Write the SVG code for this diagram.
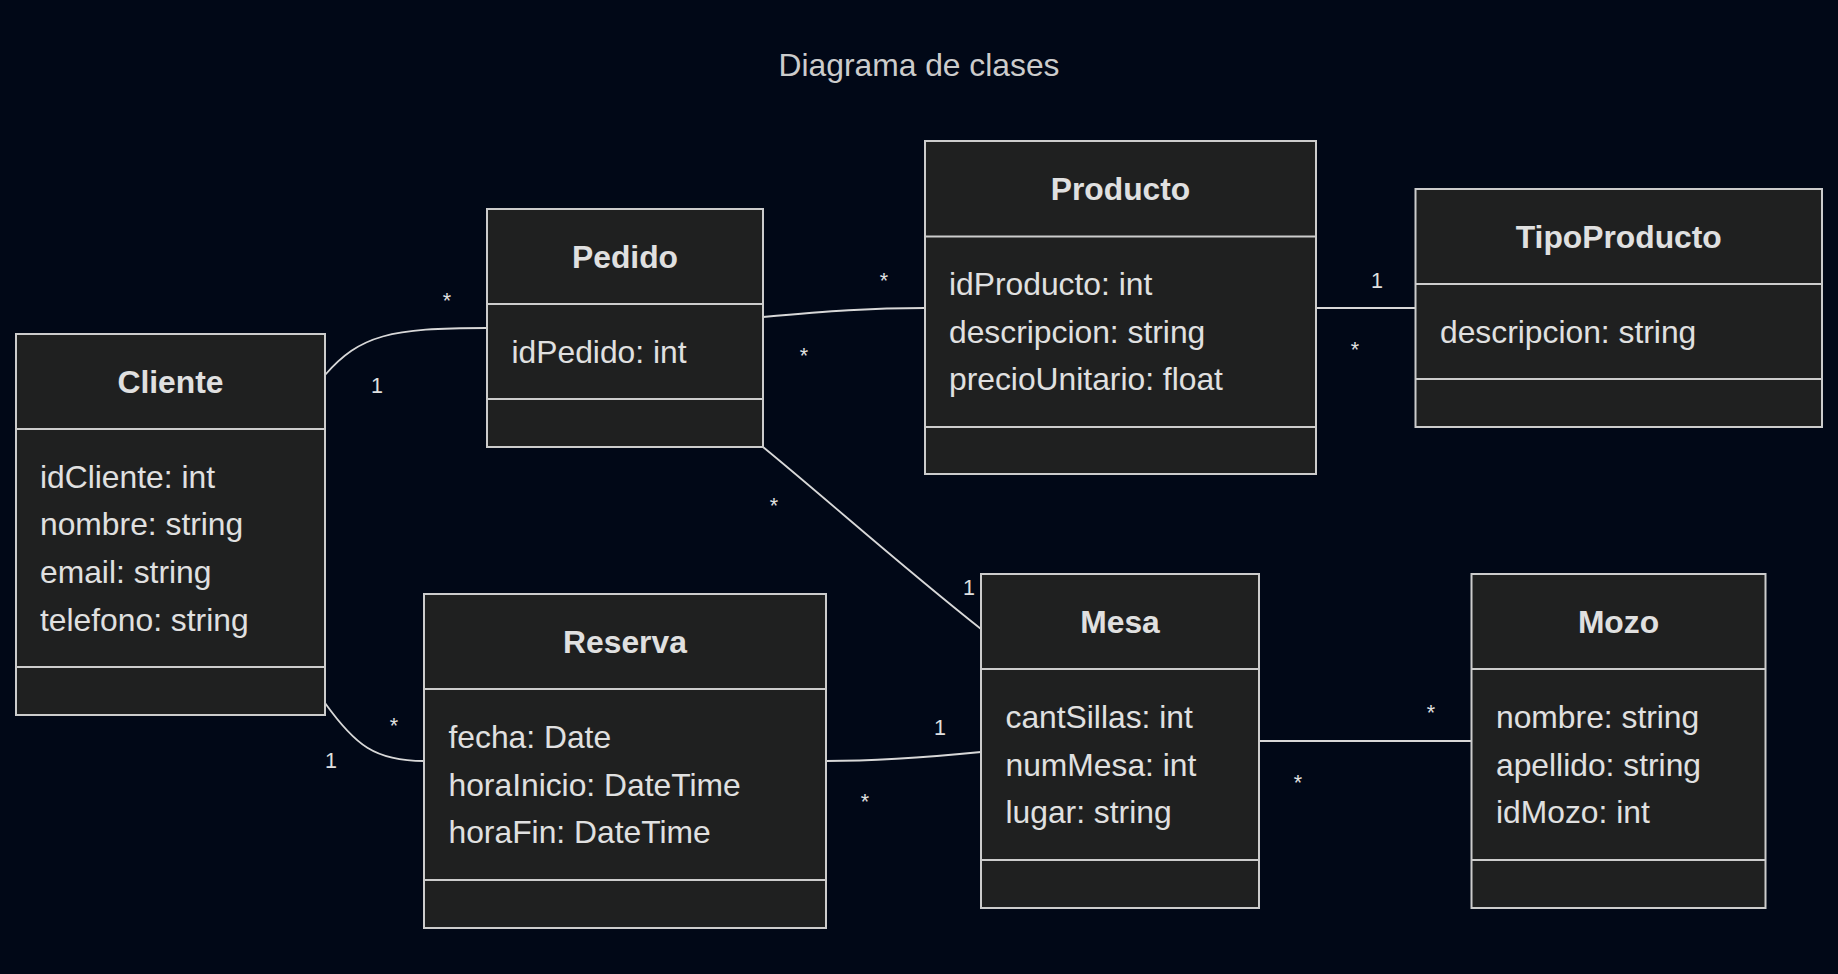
<svg xmlns="http://www.w3.org/2000/svg" width="1838" height="974" viewBox="0 0 1838 974">
<style>
.bg{fill:#010817}
.box{fill:#1f2020;stroke:#cccccc;stroke-width:2}
.div{stroke:#cccccc;stroke-width:2}
.name{font-family:"Liberation Sans",Arial,sans-serif;font-size:31.8px;font-weight:bold;fill:#e0e0e0;text-anchor:middle}
.attr{font-family:"Liberation Sans",Arial,sans-serif;font-size:31.8px;fill:#e0e0e0}
.title{font-family:"Liberation Sans",Arial,sans-serif;font-size:31.8px;fill:#cccccc;text-anchor:middle}
.edge{fill:none;stroke:#d8d8d8;stroke-width:1.8}
.lbl{font-family:"Liberation Sans",Arial,sans-serif;font-size:21.5px;fill:#e0e0e0;text-anchor:middle}
</style>
<rect class="bg" x="0" y="0" width="1838" height="974"/>
<text class="title" x="919" y="76">Diagrama de clases</text>

<g id="connectors">
<path class="edge" d="M325,375 C360,335 390,328 487,328"/>
<path class="edge" d="M763,317 C830,311 870,308 925,308"/>
<path class="edge" d="M763,447 C830,502 900,565 981,629"/>
<path class="edge" d="M325,703 C355,745 375,761 424,761"/>
<path class="edge" d="M826,761 C880,761 930,757 981,752"/>
<path class="edge" d="M1259,741 L1472,741"/>
<path class="edge" d="M1316,308 L1416,308"/>
<text class="lbl" x="377" y="393">1</text>
<text class="lbl" x="447" y="308">*</text>
<text class="lbl" x="884" y="288">*</text>
<text class="lbl" x="804" y="363">*</text>
<text class="lbl" x="774" y="513">*</text>
<text class="lbl" x="969" y="595">1</text>
<text class="lbl" x="394" y="733">*</text>
<text class="lbl" x="331" y="768">1</text>
<text class="lbl" x="940" y="735">1</text>
<text class="lbl" x="865" y="809">*</text>
<text class="lbl" x="1431" y="720">*</text>
<text class="lbl" x="1298" y="790">*</text>
<text class="lbl" x="1377" y="288">1</text>
<text class="lbl" x="1355" y="357">*</text>
</g>

<g id="Cliente">
<rect class="box" x="16" y="334" width="309" height="381"/>
<line class="div" x1="16" y1="429" x2="325" y2="429"/>
<line class="div" x1="16" y1="667" x2="325" y2="667"/>
<text class="name" x="170.5" y="392.5">Cliente</text>
<text class="attr" x="40" y="487.5">idCliente: int</text>
<text class="attr" x="40" y="535.2">nombre: string</text>
<text class="attr" x="40" y="582.9">email: string</text>
<text class="attr" x="40" y="630.6">telefono: string</text>
</g>

<g id="Pedido">
<rect class="box" x="487" y="209" width="276" height="238"/>
<line class="div" x1="487" y1="304" x2="763" y2="304"/>
<line class="div" x1="487" y1="399" x2="763" y2="399"/>
<text class="name" x="625" y="267.5">Pedido</text>
<text class="attr" x="511.5" y="362.5">idPedido: int</text>
</g>

<g id="Producto">
<rect class="box" x="925" y="141" width="391" height="333"/>
<line class="div" x1="925" y1="236.5" x2="1316" y2="236.5"/>
<line class="div" x1="925" y1="427" x2="1316" y2="427"/>
<text class="name" x="1120.5" y="200">Producto</text>
<text class="attr" x="949" y="295">idProducto: int</text>
<text class="attr" x="949" y="342.7">descripcion: string</text>
<text class="attr" x="949" y="390.4">precioUnitario: float</text>
</g>

<g id="TipoProducto">
<rect class="box" x="1415.5" y="189" width="406.5" height="238"/>
<line class="div" x1="1415.5" y1="284" x2="1822" y2="284"/>
<line class="div" x1="1415.5" y1="379" x2="1822" y2="379"/>
<text class="name" x="1618.75" y="247.5">TipoProducto</text>
<text class="attr" x="1440" y="342.5">descripcion: string</text>
</g>

<g id="Reserva">
<rect class="box" x="424" y="594" width="402" height="334"/>
<line class="div" x1="424" y1="689" x2="826" y2="689"/>
<line class="div" x1="424" y1="880" x2="826" y2="880"/>
<text class="name" x="625" y="652.5">Reserva</text>
<text class="attr" x="448.5" y="748">fecha: Date</text>
<text class="attr" x="448.5" y="795.7">horaInicio: DateTime</text>
<text class="attr" x="448.5" y="843.4">horaFin: DateTime</text>
</g>

<g id="Mesa">
<rect class="box" x="981" y="574" width="278" height="334"/>
<line class="div" x1="981" y1="669" x2="1259" y2="669"/>
<line class="div" x1="981" y1="860" x2="1259" y2="860"/>
<text class="name" x="1120" y="632.5">Mesa</text>
<text class="attr" x="1005.5" y="728">cantSillas: int</text>
<text class="attr" x="1005.5" y="775.7">numMesa: int</text>
<text class="attr" x="1005.5" y="823.4">lugar: string</text>
</g>

<g id="Mozo">
<rect class="box" x="1471.5" y="574" width="294" height="334"/>
<line class="div" x1="1471.5" y1="669" x2="1765.5" y2="669"/>
<line class="div" x1="1471.5" y1="860" x2="1765.5" y2="860"/>
<text class="name" x="1618.5" y="632.5">Mozo</text>
<text class="attr" x="1496" y="728">nombre: string</text>
<text class="attr" x="1496" y="775.7">apellido: string</text>
<text class="attr" x="1496" y="823.4">idMozo: int</text>
</g>
</svg>
